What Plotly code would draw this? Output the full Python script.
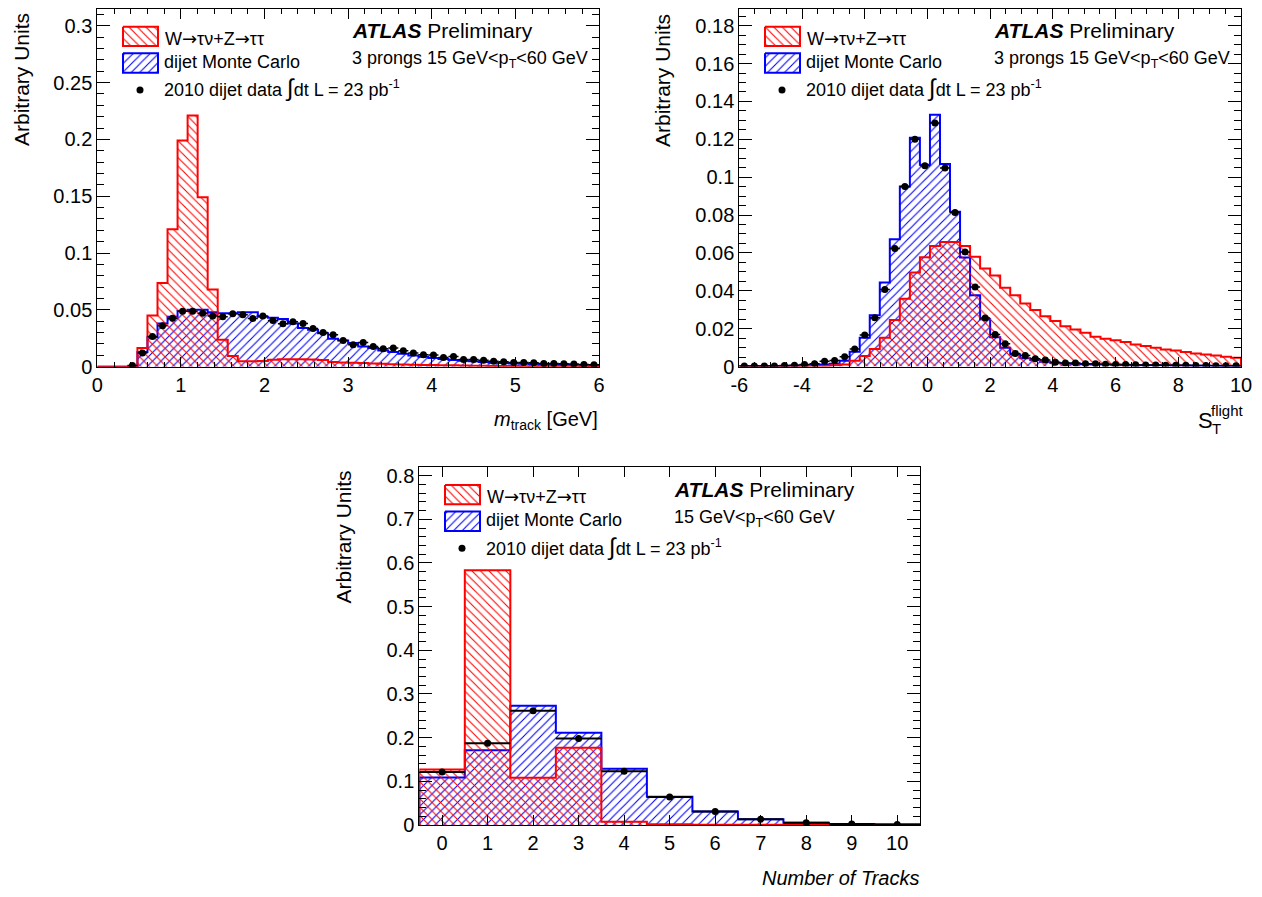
import numpy as np
import plotly.graph_objects as go

W, H = 1262, 897
FONT = "Liberation Sans, Arial, sans-serif"

# ---------------- data ----------------
# Panel 1: m_track [GeV], 50 bins from 0 to 6
mtrack_edges = np.linspace(0, 6, 51)
mtrack_tau = [0, 0, 0, 0, 0.0164, 0.045, 0.0737, 0.121, 0.199, 0.221,
              0.149, 0.068, 0.0237, 0.0094, 0.0048, 0.0047, 0.0050, 0.0062, 0.0065, 0.0066,
              0.0065, 0.0063, 0.0060, 0.0042, 0.0038, 0.0035, 0.0032, 0.0029, 0.0025, 0.0022,
              0.0020, 0.0018, 0.0016, 0.0015, 0.0013, 0.0012, 0.0010, 0.0009, 0.0008, 0.0007,
              0.0006, 0.0006, 0.0005, 0.0005, 0.0004, 0.0004, 0.0003, 0.0003, 0.0003, 0.0002]
mtrack_dijet = [0, 0, 0, 0, 0.0129, 0.026, 0.038, 0.044, 0.049, 0.050,
                0.050, 0.048, 0.047, 0.047, 0.048, 0.048, 0.044, 0.043, 0.042, 0.038,
                0.034, 0.0325, 0.0295, 0.0246, 0.023, 0.0208, 0.0178, 0.0164, 0.0143, 0.0129,
                0.0114, 0.0099, 0.0088, 0.0076, 0.0067, 0.0058, 0.0053, 0.0047, 0.0041, 0.0035,
                0.0032, 0.0029, 0.0026, 0.0023, 0.0020, 0.0018, 0.0016, 0.0014, 0.0012, 0.0011]
mtrack_data = [None, None, None, 0.001, 0.012, 0.0266, 0.036, 0.0427, 0.0488, 0.0488,
               0.047, 0.0447, 0.044, 0.0465, 0.0456, 0.0424, 0.0447, 0.0406, 0.0377, 0.0395,
               0.038, 0.0336, 0.0301, 0.028, 0.023, 0.0193, 0.0213, 0.0178, 0.0158, 0.0164,
               0.014, 0.012, 0.0105, 0.0102, 0.0082, 0.009, 0.0064, 0.0064, 0.0056, 0.0047,
               0.0044, 0.0038, 0.0038, 0.0035, 0.0029, 0.0029, 0.0026, 0.0023, 0.0020, 0.0018]

# Panel 2: S_T^flight, 50 bins from -6 to 10
sflight_edges = np.linspace(-6, 10, 51)
sflight_tau = [0, 0, 0, 0, 0, 0, 0.0001, 0.0002, 0.0003, 0.0006,
               0.001, 0.003, 0.0055, 0.0093, 0.0152, 0.0245, 0.0358, 0.0496, 0.0577, 0.0637,
               0.0658, 0.0658, 0.0637, 0.058, 0.0517, 0.0481, 0.0416, 0.0376, 0.0333, 0.0298,
               0.0266, 0.024, 0.0213, 0.0196, 0.0178, 0.0157, 0.0146, 0.0139, 0.0129, 0.0116,
               0.0108, 0.0099, 0.009, 0.0085, 0.0076, 0.0069, 0.0063, 0.0058, 0.0051, 0.0046]
sflight_dijet = [0.0002, 0.0002, 0.0002, 0.0002, 0.0003, 0.0004, 0.0006, 0.0008, 0.0010, 0.0014,
                 0.003, 0.0078, 0.0152, 0.027, 0.0443, 0.0672, 0.095, 0.1208, 0.1065, 0.133,
                 0.107, 0.0817, 0.0575, 0.0376, 0.0249, 0.0155, 0.0099, 0.0063, 0.0044, 0.0034,
                 0.0025, 0.0019, 0.0016, 0.0014, 0.0012, 0.0011, 0.0010, 0.0009, 0.0008, 0.0007,
                 0.0007, 0.0006, 0.0006, 0.0005, 0.0005, 0.0004, 0.0004, 0.0004, 0.0003, 0.0003]
sflight_data = [0.0003, 0.0003, 0.0003, 0.0003, 0.0005, 0.0007, 0.001, 0.0015, 0.0028, 0.0032,
                0.0051, 0.0093, 0.0166, 0.0257, 0.0407, 0.0623, 0.095, 0.12, 0.106, 0.1286,
                0.1048, 0.0813, 0.0605, 0.042, 0.0256, 0.0169, 0.012, 0.0069, 0.0058, 0.0041,
                0.0034, 0.0023, 0.0019, 0.0018, 0.0015, 0.0014, 0.0012, 0.0011, 0.001, 0.0009,
                0.0008, 0.0008, 0.0007, 0.0006, 0.0006, 0.0005, 0.0005, 0.0004, 0.0004, 0.0004]
sflight_ticks = [-6, -4, -2, 0, 2, 4, 6, 8, 10]
sflight_ticktext = ["-6", "-4", "-2", "0", "2", "4", "6", "8", "10"]

# Panel 3: number of tracks 0..10
ntrk_cats = [0, 1, 2, 3, 4, 5, 6, 7, 8, 9, 10]
ntrk_tau = [0.127, 0.583, 0.108, 0.177, 0.0077, 0.0015, 0.0005, 0.0004, 0.0003, 0.0002, 0.0002]
ntrk_dijet = [0.109, 0.171, 0.273, 0.2115, 0.129, 0.0646, 0.0308, 0.013, 0.0054, 0.0023, 0.001]
ntrk_data = [0.1215, 0.187, 0.2615, 0.198, 0.123, 0.064, 0.031, 0.013, 0.0054, 0.0023, 0.001]

RED = "#ff0000"
BLUE = "#0000ff"


def step_xy(edges, vals):
    edges = list(edges)
    x = [edges[0]] + edges[:-1] + [edges[-1], edges[-1]]
    y = [0] + list(vals) + [vals[-1], 0]
    return x, y


def hist_trace(edges, vals, color, shape, xa, ya):
    x, y = step_xy(edges, vals)
    return go.Scatter(x=x, y=y, mode="lines", line=dict(color=color, width=2, shape="hv"),
                      fill="tozeroy", fillcolor="rgba(0,0,0,0)",
                      fillpattern=dict(shape=shape, fgcolor=color, bgcolor="rgba(0,0,0,0)",
                                       size=6, solidity=0.18, fillmode="replace"),
                      xaxis=xa, yaxis=ya, showlegend=False, hoverinfo="skip")


def data_trace(centers, vals, halfw, xa, ya, ey=0.0, thick=1.5):
    return go.Scatter(x=centers, y=vals, mode="markers",
                      marker=dict(color="black", size=7),
                      error_x=dict(type="constant", value=halfw, width=0, thickness=thick, color="black"),
                      error_y=dict(type="constant", value=ey, width=0, thickness=1.2, color="black", visible=ey > 0),
                      xaxis=xa, yaxis=ya, showlegend=False, hoverinfo="skip")


fig = go.Figure()

# panel 1
c1 = 0.5 * (mtrack_edges[:-1] + mtrack_edges[1:])
fig.add_trace(hist_trace(mtrack_edges, mtrack_dijet, BLUE, "/", "x", "y"))
fig.add_trace(hist_trace(mtrack_edges, mtrack_tau, RED, "\\", "x", "y"))
fig.add_trace(data_trace(c1, mtrack_data, 0.06, "x", "y", ey=0.0007))

# panel 2
c2 = 0.5 * (sflight_edges[:-1] + sflight_edges[1:])
fig.add_trace(hist_trace(sflight_edges, sflight_dijet, BLUE, "/", "x2", "y2"))
fig.add_trace(hist_trace(sflight_edges, sflight_tau, RED, "\\", "x2", "y2"))
fig.add_trace(data_trace(c2, sflight_data, 0.16, "x2", "y2", ey=0.0015))

# panel 3
e3 = [c - 0.5 for c in ntrk_cats] + [ntrk_cats[-1] + 0.5]
fig.add_trace(hist_trace(e3, ntrk_dijet, BLUE, "/", "x3", "y3"))
fig.add_trace(hist_trace(e3, ntrk_tau, RED, "\\", "x3", "y3"))
fig.add_trace(data_trace(ntrk_cats, ntrk_data, 0.5, "x3", "y3", thick=2))

# ---------------- legends (overlay pixel axes) ----------------
panel_offsets = [(0, 0), (642, 0), (322, 458.3)]
for dx, dy in panel_offsets:
    for (y0, y1, col, shp) in [(26.7, 46, RED, "\\"), (53.3, 72.7, BLUE, "/")]:
        x0, x1 = 123 + dx, 158 + dx
        fig.add_trace(go.Scatter(x=[x0, x1, x1, x0, x0], y=[y0 + dy, y0 + dy, y1 + dy, y1 + dy, y0 + dy],
                                 mode="lines", line=dict(color=col, width=2), fill="toself",
                                 fillcolor="rgba(0,0,0,0)",
                                 fillpattern=dict(shape=shp, fgcolor=col, bgcolor="rgba(0,0,0,0)",
                                                  size=6, solidity=0.18, fillmode="replace"),
                                 xaxis="x4", yaxis="y4", showlegend=False, hoverinfo="skip"))
    fig.add_trace(go.Scatter(x=[140 + dx], y=[90 + dy], mode="markers",
                             marker=dict(color="black", size=7), xaxis="x4", yaxis="y4",
                             showlegend=False, hoverinfo="skip"))


def ann(text, x, y, size, xanchor="left", yanchor="middle", angle=0):
    return dict(text=text, x=x / W, y=1 - y / H, xref="paper", yref="paper",
                xanchor=xanchor, yanchor=yanchor, showarrow=False, textangle=angle,
                font=dict(family=FONT, size=size, color="black"))


ARROW = "<span style='font-family:DejaVu Sans'>\u2192</span>"
annotations = []
subtitles = ["3 prongs 15 GeV&lt;p<sub>T</sub>&lt;60 GeV", "3 prongs 15 GeV&lt;p<sub>T</sub>&lt;60 GeV",
             "15 GeV&lt;p<sub>T</sub>&lt;60 GeV"]
for (dx, dy), sub in zip(panel_offsets, subtitles):
    annotations.append(ann("W" + ARROW + "\u03c4\u03bd+Z" + ARROW + "\u03c4\u03c4", 163 + dx, 38.3 + dy, 18))
    annotations.append(ann("dijet Monte Carlo", 162 + dx, 61.7 + dy, 18))
    annotations.append(ann("2010 dijet data <span style='font-size:24px'>\u222b</span>dt L = 23 pb<sup>-1</sup>",
                           162 + dx, 88.3 + dy, 18))
    annotations.append(ann("<b><i>ATLAS</i></b> Preliminary", 350 + dx, 30.7 + dy, 21))
    annotations.append(ann(sub, 350 + dx, 60 + dy, 18))

# y titles
annotations.append(ann("Arbitrary Units", 22, 80, 21, "center", "middle", -90))
annotations.append(ann("Arbitrary Units", 663, 80, 21, "center", "middle", -90))
annotations.append(ann("Arbitrary Units", 343, 537.5, 21, "center", "middle", -90))
# x titles
annotations.append(ann("<i>m</i><sub>track</sub> [GeV]", 600, 420, 20, "right", "middle"))
annotations.append(ann("S", 1196, 420, 22, "left", "middle"))
annotations.append(ann("T", 1210, 428, 15, "left", "middle"))
annotations.append(ann("flight", 1209, 411, 15, "left", "middle"))
annotations.append(ann("<i>Number of Tracks</i>", 921, 878, 20, "right", "middle"))


def axis(domain, rng, anchor, dtick=None, minor=None, tickvals=None, ticktext=None, ticklen=10, minorlen=5):
    d = dict(domain=domain, range=rng, anchor=anchor, showline=True, linecolor="black", linewidth=1,
             mirror="ticks", ticks="inside", ticklen=ticklen, tickwidth=1, tickcolor="black",
             showgrid=False, zeroline=False, fixedrange=True, automargin=False,
             tickfont=dict(family=FONT, size=20, color="black"))
    if tickvals is not None:
        d.update(tickmode="array", tickvals=tickvals)
        if ticktext is not None:
            d["ticktext"] = ticktext
    else:
        d.update(tick0=0, dtick=dtick)
    if minor is not None:
        d["minor"] = dict(ticks="inside", ticklen=minorlen, tickwidth=1, tickcolor="black",
                          dtick=minor, tick0=0, showgrid=False)
    return d


fig.update_layout(
    width=W, height=H, autosize=False,
    margin=dict(l=0, r=0, t=0, b=0, pad=0, autoexpand=False),
    paper_bgcolor="white", plot_bgcolor="rgba(0,0,0,0)",
    showlegend=False,
    xaxis=axis([97.3 / W, 599 / W], [0, 6], "y", dtick=1, minor=0.2),
    yaxis=axis([1 - 366.7 / H, 1 - 9 / H], [0, 0.3147], "x", dtick=0.05, minor=0.01, ticklen=13, minorlen=7),
    xaxis2=axis([739.3 / W, 1241 / W], [-6, 10], "y2", minor=0.5, tickvals=sflight_ticks,
                ticktext=sflight_ticktext),
    yaxis2=axis([1 - 366.5 / H, 1 - 9 / H], [0, 0.1888], "x2", dtick=0.02, minor=0.005, ticklen=13, minorlen=7),
    xaxis3=axis([419.3 / W, 920 / W], [-0.5, 10.5], "y3", tickvals=ntrk_cats),
    yaxis3=axis([1 - 825 / H, 1 - 467.3 / H], [0, 0.819], "x3", dtick=0.1, minor=0.02, ticklen=13, minorlen=7),
    xaxis4=dict(domain=[0, 1], range=[0, W], visible=False, anchor="y4", fixedrange=True, automargin=False),
    yaxis4=dict(domain=[0, 1], range=[H, 0], visible=False, anchor="x4", fixedrange=True, automargin=False),
    annotations=annotations,
)

fig.write_html("out.html")
